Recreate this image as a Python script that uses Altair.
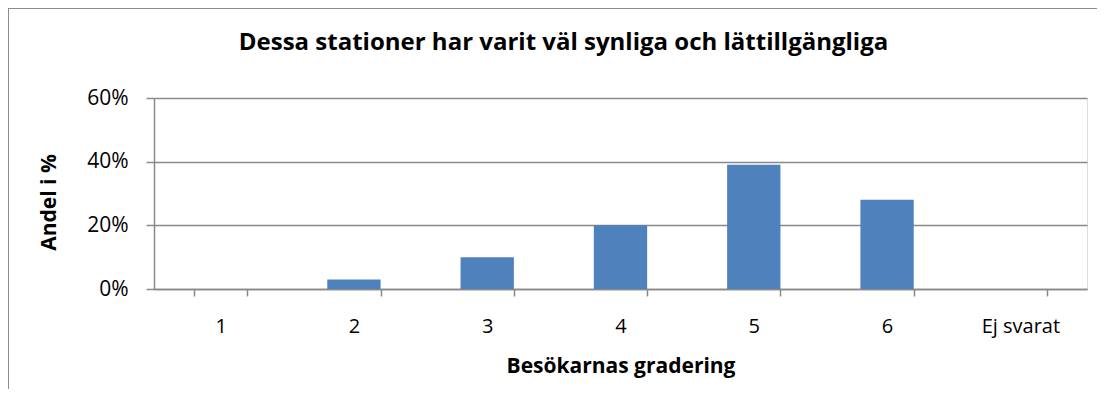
import altair as alt
import pandas as pd

categories = ["1", "2", "3", "4", "5", "6", "Ej svarat"]
shares = [0.0, 0.03, 0.10, 0.20, 0.39, 0.28, 0.0]
y_ticks = [0, 0.2, 0.4, 0.6]

title_text = "Dessa stationer har varit väl synliga och lättillgängliga"
x_title = "Besökarnas gradering"
y_title = "Andel i %"

df = pd.DataFrame({"grad": categories, "andel": shares})

FONT = "Open Sans"
LINE = "#898989"
W, H = 933, 191

bars = alt.Chart(df).mark_bar(color="#4F81BD").encode(
    x=alt.X(
        "grad:N",
        sort=categories,
        scale=alt.Scale(paddingInner=0.6, paddingOuter=0.3),
        axis=alt.Axis(
            title=x_title,
            labelAngle=0,
            tickBand="extent",
            tickSize=7,
            tickColor=LINE,
            tickWidth=1.5,
            domainColor=LINE,
            domainWidth=1.5,
            labelFont=FONT,
            labelFontSize=20,
            labelColor="#000000",
            labelBaseline="alphabetic",
            labelPadding=36,
            titleFont=FONT,
            titleFontSize=21,
            titleFontWeight="bold",
            titleColor="#000000",
            titleBaseline="alphabetic",
            titleY=83,
        ),
    ),
    y=alt.Y(
        "andel:Q",
        scale=alt.Scale(domain=[0, 0.6]),
        axis=alt.Axis(
            values=y_ticks,
            format=".0%",
            title=y_title,
            grid=True,
            gridColor=LINE,
            gridWidth=1.5,
            tickSize=8,
            tickColor=LINE,
            tickWidth=1.5,
            domainColor=LINE,
            domainWidth=1.5,
            labelFont=FONT,
            labelFontSize=21,
            labelColor="#000000",
            labelPadding=18,
            titleFont=FONT,
            titleFontSize=21,
            titleFontWeight="bold",
            titleColor="#000000",
            titleX=-95,
            titleY=104,
        ),
    ),
)

frame_left = alt.Chart(alt.Data(values=[{}])).mark_rule(color="#8C8C8C", strokeWidth=1).encode(
    x=alt.value(-145.5), y=alt.value(-90), y2=alt.value(H + 120)
)
frame_top = alt.Chart(alt.Data(values=[{}])).mark_rule(color="#8C8C8C", strokeWidth=1).encode(
    x=alt.value(-146), x2=alt.value(W + 40), y=alt.value(-89.5)
)

chart = alt.layer(bars, frame_left, frame_top).properties(
    width=W,
    height=H,
    padding={"left": 146, "top": 90, "right": 10, "bottom": 100},
    autosize=alt.AutoSizeParams(type="none"),
    title=alt.TitleParams(
        text=title_text,
        font=FONT,
        fontSize=24,
        fontWeight="bold",
        color="#000000",
        anchor="middle",
        frame="group",
        baseline="alphabetic",
        dx=-57,
        dy=66,
        offset=0,
    ),
).configure_view(stroke=None).configure(background="white")

chart.save("out.html", embed_options={"renderer": "svg", "actions": False})
